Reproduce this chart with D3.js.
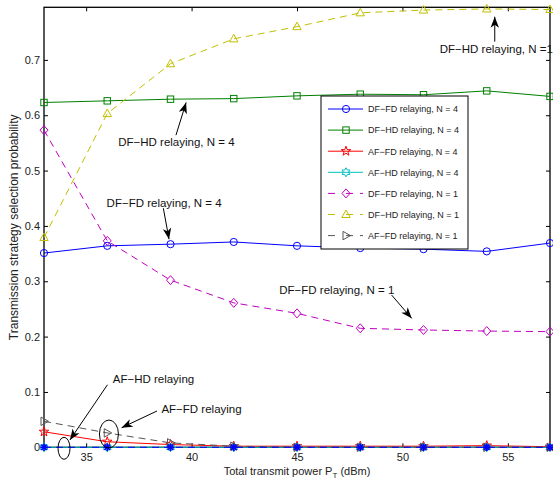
<!DOCTYPE html>
<html>
<head>
<meta charset="utf-8">
<script src="https://cdn.jsdelivr.net/npm/d3@7"></script>
<style>
  body { margin: 0; background: #fff; }
  svg { font-family: "Liberation Sans", Arial, Helvetica, sans-serif; }
</style>
</head>
<body>
<svg width="553" height="482"></svg>
<script>
// transmit power (dBm)
var powers = [33, 36, 39, 42, 45, 48, 51, 54, 57];

var dffd4 = [0.351, 0.364, 0.367, 0.371, 0.364, 0.360, 0.358, 0.354, 0.369];
var dfhd4 = [0.623, 0.626, 0.629, 0.630, 0.635, 0.638, 0.637, 0.644, 0.634];
var affd4 = [0.028, 0.010, 0.005, 0.002, 0.002, 0.002, 0.002, 0.003, 0.001];
var afhd4 = [0, 0, 0, 0, 0, 0, 0, 0, 0];
var dffd1 = [0.573, 0.373, 0.302, 0.261, 0.242, 0.215, 0.212, 0.210, 0.209];
var dfhd1 = [0.379, 0.603, 0.693, 0.738, 0.760, 0.785, 0.790, 0.792, 0.791];
var affd1 = [0.047, 0.026, 0.008, 0.002, 0, 0, 0, 0, 0];
var afhd1 = [0, 0, 0, 0, 0, 0, 0, 0, 0];

var xTicks = [35, 40, 45, 50, 55];
var yTicks = [0, 0.1, 0.2, 0.3, 0.4, 0.5, 0.6, 0.7];

var series = [
  { name: "DF\u2212FD relaying, N = 4", values: dffd4, color: "#0000ff", dash: null, marker: "circle", legend: true },
  { name: "DF\u2212HD relaying, N = 4", values: dfhd4, color: "#008000", dash: null, marker: "square", legend: true },
  { name: "AF\u2212FD relaying, N = 4", values: affd4, color: "#ff0000", dash: null, marker: "pentagram", legend: true },
  { name: "AF\u2212HD relaying, N = 4", values: afhd4, color: "#00bfbf", dash: null, marker: "hexagram", legend: true },
  { name: "DF\u2212FD relaying, N = 1", values: dffd1, color: "#c000c0", dash: "7,5", marker: "diamond", legend: true },
  { name: "DF\u2212HD relaying, N = 1", values: dfhd1, color: "#c0c000", dash: "7,5", marker: "triangle", legend: true },
  { name: "AF\u2212FD relaying, N = 1", values: affd1, color: "#555555", dash: "7,5", marker: "triright", legend: true },
  { name: "AF\u2212HD relaying, N = 1", values: afhd1, color: "#0000ff", dash: "7,5", marker: "asterisk", legend: false }
];

// annotations, positions in data units
var notes = [
  { text: "DF\u2212HD relaying, N = 4", tx: 36.52, ty: 0.551, ax: 39.26, ay: 0.564, bx: 39.74, by: 0.623 },
  { text: "DF\u2212FD relaying, N = 4", tx: 35.97, ty: 0.441, ax: 38.66, ay: 0.432, bx: 38.93, by: 0.376 },
  { text: "DF\u2212FD relaying, N = 1", tx: 44.16, ty: 0.284, ax: 49.49, ay: 0.275, bx: 50.44, by: 0.233 },
  { text: "DF\u2212HD relaying, N =1", tx: 51.77, ty: 0.719, ax: 54.38, ay: 0.733, bx: 54.38, by: 0.778 },
  { text: "AF\u2212HD relaying", tx: 36.26, ty: 0.1227, ax: 36.01, ay: 0.113, bx: 34.23, by: 0.0132 },
  { text: "AF\u2212FD relaying", tx: 38.57, ty: 0.0685, ax: 38.36, ay: 0.0656, bx: 36.68, by: 0.0354 }
];
var rings = [
  { cx: 33.95, cy: -0.0018, rx: 6, ry: 11 },
  { cx: 36.08, cy: 0.024, rx: 9.5, ry: 14 }
];

var mLeft = 44, mRight = 550, mTop = 7.3, mBottom = 447.3;

var svg = d3.select("svg");
var x = d3.scaleLinear().domain([33, 57]).range([mLeft, mRight]);
var y = d3.scaleLinear().domain([0, 0.795]).range([mBottom, mTop]);

// axes (MATLAB box with inward ticks)
var fmt = function (d) { return d === 0 ? "0" : d3.format(".1f")(d); };
svg.append("g").attr("transform", "translate(0," + mBottom + ")")
  .call(d3.axisBottom(x).tickValues(xTicks).tickSizeInner(-4).tickSizeOuter(0).tickPadding(6))
  .call(styleAxis);
svg.append("g").attr("transform", "translate(0," + mTop + ")")
  .call(d3.axisTop(x).tickValues(xTicks).tickSizeInner(-4).tickSizeOuter(0).tickFormat(""))
  .call(styleAxis);
svg.append("g").attr("transform", "translate(" + mLeft + ",0)")
  .call(d3.axisLeft(y).tickValues(yTicks).tickFormat(fmt).tickSizeInner(-4).tickSizeOuter(0).tickPadding(4))
  .call(styleAxis);
svg.append("g").attr("transform", "translate(" + mRight + ",0)")
  .call(d3.axisRight(y).tickValues(yTicks).tickSizeInner(-4).tickSizeOuter(0).tickFormat(""))
  .call(styleAxis);

function styleAxis(g) {
  g.select(".domain").remove();
  g.selectAll(".tick line").attr("stroke", "#000").attr("stroke-width", 1);
  g.selectAll(".tick text").attr("font-size", 11).attr("fill", "#222")
    .attr("font-family", "Liberation Sans, Arial, sans-serif");
}

svg.append("rect")
  .attr("x", mLeft).attr("y", mTop)
  .attr("width", mRight - mLeft).attr("height", mBottom - mTop)
  .attr("fill", "none").attr("stroke", "#000").attr("stroke-width", 1.3);

// axis titles
var xl = svg.append("text")
  .attr("x", (mLeft + mRight) / 2).attr("y", 475)
  .attr("text-anchor", "middle").attr("font-size", 11).attr("fill", "#222");
xl.append("tspan").text("Total transmit power P");
xl.append("tspan").attr("font-size", 8).attr("dy", 3).text("T");
xl.append("tspan").attr("dy", -3).text(" (dBm)");

svg.append("text")
  .attr("transform", "translate(18," + ((mTop + mBottom) / 2) + ") rotate(-90)")
  .attr("text-anchor", "middle").attr("font-size", 12).attr("fill", "#222")
  .text("Transmission strategy selection probability");

// markers
function starPath(n, ro, ri) {
  var p = [];
  for (var i = 0; i < 2 * n; i++) {
    var r = i % 2 === 0 ? ro : ri;
    var a = -Math.PI / 2 + i * Math.PI / n;
    p.push([r * Math.cos(a), r * Math.sin(a)]);
  }
  return "M" + p.map(function (q) { return q[0].toFixed(2) + "," + q[1].toFixed(2); }).join("L") + "Z";
}

function drawMarker(g, type, color, cx, cy) {
  var m = g.append("g").attr("transform", "translate(" + cx + "," + cy + ")");
  var st = function (s) { return s.attr("fill", "none").attr("stroke", color).attr("stroke-width", 1); };
  if (type === "circle") st(m.append("circle").attr("r", 3.6));
  else if (type === "square") st(m.append("rect").attr("x", -3.2).attr("y", -3.2).attr("width", 6.4).attr("height", 6.4));
  else if (type === "diamond") st(m.append("path").attr("d", "M0,-4.5L4,0L0,4.5L-4,0Z"));
  else if (type === "triangle") st(m.append("path").attr("d", "M0,-4.5L4.2,3L-4.2,3Z"));
  else if (type === "triright") st(m.append("path").attr("d", "M4.5,0L-3,4.2L-3,-4.2Z"));
  else if (type === "pentagram") st(m.append("path").attr("d", starPath(5, 5, 2)).attr("stroke-width", 1.2));
  else if (type === "hexagram") st(m.append("path").attr("d", starPath(6, 4.5, 2.6)));
  else if (type === "asterisk") {
    [0, 45, 90, 135].forEach(function (a) {
      m.append("line").attr("x1", -3.8).attr("x2", 3.8).attr("y1", 0).attr("y2", 0)
        .attr("transform", "rotate(" + a + ")")
        .attr("stroke", color).attr("stroke-width", 1.6);
    });
  }
}

var line = d3.line()
  .x(function (d, i) { return x(powers[i]); })
  .y(function (d) { return y(d); });

series.forEach(function (s) {
  var g = svg.append("g");
  g.append("path").datum(s.values)
    .attr("d", line)
    .attr("fill", "none")
    .attr("stroke", s.color)
    .attr("stroke-width", 1)
    .attr("stroke-dasharray", s.dash);
  s.values.forEach(function (v, i) {
    drawMarker(g, s.marker, s.color, x(powers[i]), y(v));
  });
});

// annotations
function arrow(x1, y1, x2, y2) {
  svg.append("line").attr("x1", x1).attr("y1", y1).attr("x2", x2).attr("y2", y2)
    .attr("stroke", "#000").attr("stroke-width", 1);
  var a = Math.atan2(y2 - y1, x2 - x1);
  var L = 11, W = 4.2, N = 3;
  var pts = [[0, 0], [-L, W], [-L + N, 0], [-L, -W]].map(function (p) {
    return [x2 + p[0] * Math.cos(a) - p[1] * Math.sin(a), y2 + p[0] * Math.sin(a) + p[1] * Math.cos(a)];
  });
  svg.append("path").attr("d", "M" + pts.join("L") + "Z").attr("fill", "#000");
}

notes.forEach(function (n) {
  svg.append("text")
    .attr("x", x(n.tx)).attr("y", y(n.ty) + 4)
    .attr("font-size", 11.5).attr("fill", "#111")
    .text(n.text);
  arrow(x(n.ax), y(n.ay), x(n.bx), y(n.by));
});

rings.forEach(function (r) {
  svg.append("ellipse")
    .attr("cx", x(r.cx)).attr("cy", y(r.cy)).attr("rx", r.rx).attr("ry", r.ry)
    .attr("fill", "none").attr("stroke", "#000").attr("stroke-width", 1);
});

// legend
var lx = 321, ly = 96, lw = 147, lh = 153;
var leg = svg.append("g");
leg.append("rect").attr("x", lx).attr("y", ly).attr("width", lw).attr("height", lh)
  .attr("fill", "#fff").attr("stroke", "#000").attr("stroke-width", 1);
series.filter(function (s) { return s.legend; }).forEach(function (s, i) {
  var yy = ly + 13 + i * 21.1;
  leg.append("line").attr("x1", lx + 7).attr("x2", lx + 42).attr("y1", yy).attr("y2", yy)
    .attr("stroke", s.color).attr("stroke-width", 1)
    .attr("stroke-dasharray", s.dash ? "7,11,7" : null);
  drawMarker(leg, s.marker, s.color, lx + 25, yy);
  leg.append("text").attr("x", lx + 47).attr("y", yy + 3.3)
    .attr("font-size", 9).attr("fill", "#222").text(s.name);
});
</script>
</body>
</html>
